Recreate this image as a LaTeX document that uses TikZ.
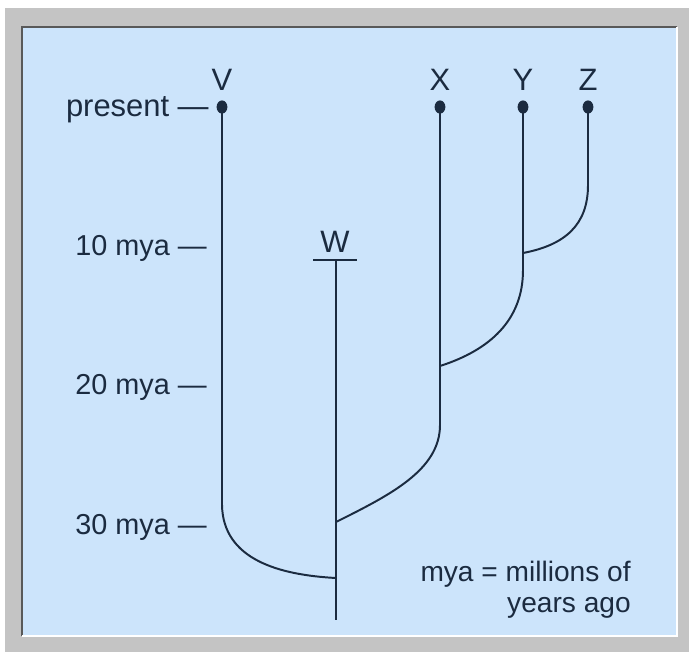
\documentclass[tikz,border=0pt]{standalone}
\usepackage{fontspec}
\setmainfont{Liberation Sans}
\usetikzlibrary{shapes.geometric}
\definecolor{panel}{HTML}{CCE4FB}
\definecolor{frame}{HTML}{C4C4C4}
\definecolor{ink}{HTML}{1B2B40}
\tikzset{
  branch/.style={draw=ink, line width=1.4pt},
  tipdot/.style={ellipse, fill=ink, inner sep=0pt, minimum width=0.27cm, minimum height=0.33cm},
  taxon/.style={text=ink, font=\fontsize{22}{26}\selectfont, inner sep=0pt},
  timetext/.style={text=ink, font=\fontsize{20.5}{24}\selectfont, inner sep=0pt, anchor=base east},
  keytext/.style={text=ink, font=\fontsize{20}{21.5}\selectfont, inner sep=0pt},
}
\begin{document}
\begin{tikzpicture}[x=0.025cm, y=-0.025cm]
\useasboundingbox (0,0) rectangle (689,652);
% frame and panel
\fill[white] (0,0) rectangle (689,652);
\fill[frame] (5,8) rectangle (689,652);
\fill[panel] (22,27) rectangle (677,636);
\draw[gray!70!black, line width=1.2pt] (22,636) -- (22,27) -- (677,27);
\draw[white, line width=1.2pt] (677,27) -- (677,636) -- (22,636);

% taxa
\node[taxon, anchor=base] (V) at (222,90) {V};
\node[taxon, anchor=base] (X) at (440,90) {X};
\node[taxon, anchor=base] (Y) at (523,90) {Y};
\node[taxon, anchor=base] (Z) at (588,90) {Z};
\node[taxon, anchor=base] (W) at (335,252) {W};

\node[tipdot] (vtip) at (222,107) {};
\node[tipdot] (xtip) at (440,107) {};
\node[tipdot] (ytip) at (523,107) {};
\node[tipdot] (ztip) at (588,107) {};

% time axis
\node[taxon, anchor=base east] (present) at (209,116) {present —};
\node[timetext] (t10) at (207,255) {10 mya —};
\node[timetext] (t20) at (207,394) {20 mya —};
\node[timetext] (t30) at (207,534) {30 mya —};

% branch points
\coordinate (wl) at (313,260);
\coordinate (wr) at (357,260);
\coordinate (wtop) at (336,260);
\coordinate (root) at (336,620);
\coordinate (vw) at (336,578);
\coordinate (xw) at (336,522);
\coordinate (yx) at (440,366);
\coordinate (zy) at (523,253);

% tree
\draw[branch] (wl) -- (wr);
\draw[branch] (wtop) -- (root);
\draw[branch] (vtip.center) -- (222,505) .. controls (223,560) and (280,575) .. (vw);
\draw[branch] (xtip.center) -- (440,425) .. controls (440,470) and (390,495) .. (xw);
\draw[branch] (ytip.center) -- (523,270) .. controls (523,320) and (490,350) .. (yx);
\draw[branch] (ztip.center) -- (588,185) .. controls (588,225) and (565,245) .. (zy);

\node[keytext, align=right, anchor=base east] (key) at (631,612) {mya = millions of\\years ago};
\end{tikzpicture}
\end{document}
